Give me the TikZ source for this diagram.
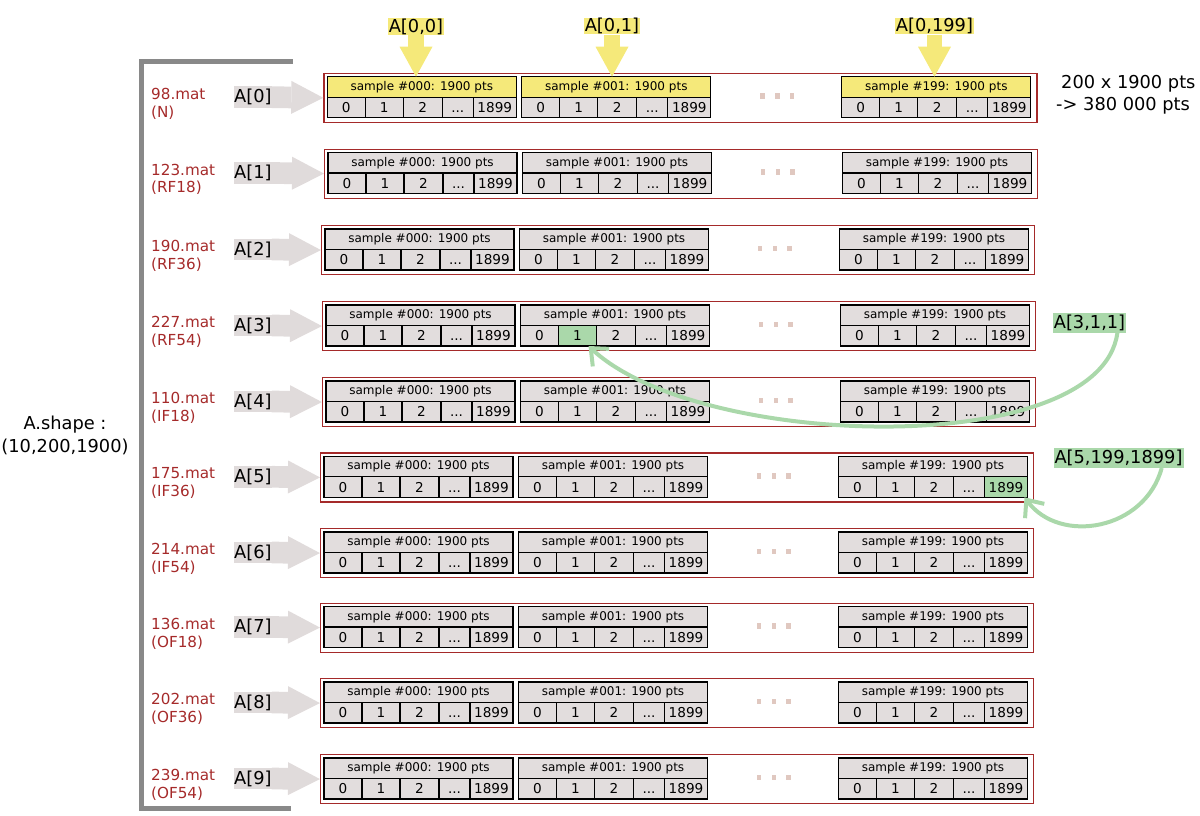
\documentclass[tikz,border=0pt]{standalone}
\usepackage{fontspec}
\setmainfont{DejaVu Sans}
\usetikzlibrary{arrows.meta,positioning}

\definecolor{cellgrey}{RGB}{226,221,221}
\definecolor{labgrey}{RGB}{224,219,219}
\definecolor{hlyellow}{RGB}{245,233,122}
\definecolor{hlgreen}{RGB}{170,216,170}
\definecolor{rowred}{RGB}{165,42,42}
\definecolor{brackgrey}{RGB}{137,137,137}
\definecolor{dotcol}{RGB}{224,200,192}

\newcommand\labfont{\fontsize{17.8}{21.7}\selectfont}
\newcommand\hdrfont{\fontsize{12}{14}\selectfont}
\newcommand\cellfont{\fontsize{13.6}{16}\selectfont}
\newcommand\filefont{\fontsize{15.2}{17.7}\selectfont}

% one sample: header + 5 cells
\newcommand\samplebox[4]{%
  \node[hdr, fill=#4, anchor=north west] (#1h) at #2 {sample \##3: 1900 pts};
  \node[cell, minimum width=38pt, anchor=north west, #1c0/.try] (#1c0) at (#1h.south west) {0};
  \node[cell, minimum width=38pt, right=0pt of #1c0, #1c1/.try] (#1c1) {1};
  \node[cell, minimum width=39pt, right=0pt of #1c1, #1c2/.try] (#1c2) {2};
  \node[cell, minimum width=31pt, right=0pt of #1c2, #1c3/.try] (#1c3) {{.}{.}{.}};
  \node[cell, minimum width=43pt, right=0pt of #1c3, #1c4/.try] (#1c4) {1899};
}

\tikzset{
  r3-s1c1/.style={fill=hlgreen},
  r5-s2c4/.style={fill=hlgreen}
}

\begin{document}
\begin{tikzpicture}[x=1pt,y=-1pt,
  rowbox/.style={draw=rowred, line width=1.2pt, minimum width=713pt, minimum height=49pt, inner sep=0pt, anchor=north west},
  hdr/.style={draw=black, line width=1.2pt, minimum width=189pt, minimum height=20.5pt, inner sep=0pt, outer sep=0pt, font=\hdrfont},
  cell/.style={draw=black, fill=cellgrey, line width=1.2pt, minimum height=20.5pt, inner sep=0pt, outer sep=0pt, text height=9.9pt, text depth=0pt, font=\cellfont},
  rowlab/.style={fill=labgrey, inner xsep=0pt, inner ysep=0pt, minimum height=21.7pt, font=\labfont},
  rowarrow/.style={draw=labgrey, line width=21.7pt, -{Triangle[length=32pt,width=33pt,line width=0pt]}},
  toplab/.style={fill=hlyellow, inner xsep=1pt, inner ysep=0pt, minimum height=16.7pt, font=\labfont},
  toparrow/.style={draw=hlyellow, line width=15.6pt, -{Triangle[length=30pt,width=33pt,line width=0pt]}},
  hllab/.style={fill=hlgreen, inner xsep=1pt, inner ysep=0pt, minimum height=20pt, font=\labfont},
  hlarrow/.style={draw=hlgreen, line width=4pt, -{Straight Barb[length=14pt,width=24pt]}},
  filelab/.style={text=rowred, inner sep=0pt, align=left, font=\filefont},
  labtext/.style={inner sep=0pt, font=\labfont}
]
\useasboundingbox (0,0) rectangle (1200,815);

% bracket on the left
\draw[brackgrey, line width=4.7pt] (292.7,61.5) -- (141.5,61.5) -- (141.5,808.2) -- (291,808.2);

\node[labtext, align=center, font=\fontsize{17.8}{23}\selectfont] (shape) at (65,435.7) {A.shape :\\(10,200,1900)};

% rows
\foreach \i/\rx/\ry/\file/\cond in {0/323.3/72.7/98.mat/N, 1/324/148.5/123.mat/RF18,
    2/321/225/190.mat/RF36, 3/322/301/227.mat/RF54, 4/322/377/110.mat/IF18,
    5/320/452.3/175.mat/IF36, 6/320/528/214.mat/IF54, 7/320/602.5/136.mat/OF18,
    8/320/678/202.mat/OF36, 9/320/754/239.mat/OF54}{
  \ifnum\i=0 \def\hcol{hlyellow}\else\def\hcol{cellgrey}\fi
  \node[rowbox] (r\i) at (\rx,\ry) {};
  \samplebox{r\i-s0}{([xshift=4pt,yshift=-4pt]r\i.north west)}{000}{\hcol}
  \samplebox{r\i-s1}{([xshift=198.5pt,yshift=-4pt]r\i.north west)}{001}{\hcol}
  \samplebox{r\i-s2}{([xshift=518.5pt,yshift=-4pt]r\i.north west)}{199}{\hcol}
  \foreach \d in {439,454,468.5}
    \fill[dotcol] (\rx+\d-2.2,\ry+20.7) rectangle ++(4.4,5.7);
  \node[filelab, anchor=west] (f\i) at (151,\ry+31) {\file\\(\cond)};
  \node[rowlab, anchor=west] (l\i) at (234,\ry+24.5) {A[\i]};
  \draw[rowarrow] (l\i.east) -- (r\i.west);
}

\node[labtext, anchor=north west, align=left] (total) at (1056,75.3) {\hspace*{5pt}200 x 1900 pts\\-> 380 000 pts};

% indexing of the first row
\node[toplab] (t0) at (416,26.5) {A[0,0]};
\node[toplab] (t1) at (612,26) {A[0,1]};
\node[toplab] (t199) at (934.5,26) {A[0,199]};
\draw[toparrow] (t0.south) -- (t0.south |- r0-s0h.north);
\draw[toparrow] (t1.south) -- (t1.south |- r0-s1h.north);
\draw[toparrow] (t199.south) -- (t199.south |- r0-s2h.north);

% single points
\node[hllab] (g1) at (1089.5,322.7) {A[3,1,1]};
\node[hllab] (g2) at (1118.5,457.8) {A[5,199,1899]};
\draw[hlarrow] ([xshift=-9pt]g1.south east) .. controls (1100,460) and (700,450) .. ([xshift=-8pt]r3-s1c1.south east);
\draw[hlarrow] ([xshift=-22pt]g2.south east) .. controls (1145,530) and (1060,545) .. ([xshift=-3pt]r5-s2c4.south east);
\end{tikzpicture}
\end{document}
